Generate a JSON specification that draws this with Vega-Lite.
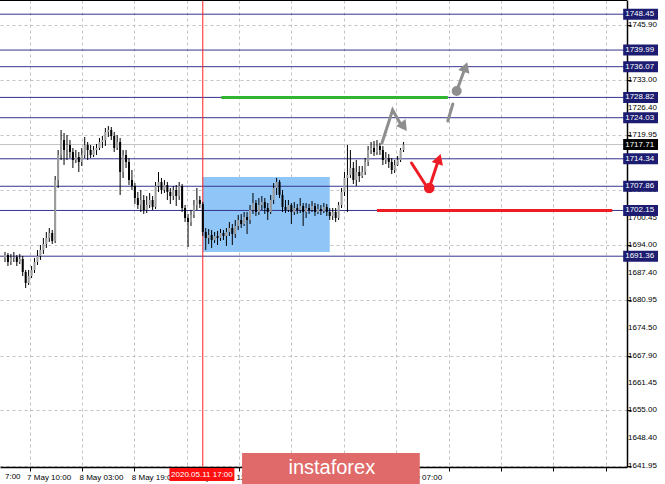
{
"$schema":"https://vega.github.io/schema/vega-lite/v6.json",
"width":627,"height":467,
"autosize":{"type":"none"},
"padding":{"left":0,"top":0,"right":38,"bottom":17},
"background":"#ffffff",
"config":{"view":{"stroke":null},"font":"Liberation Sans","axis":{"labelFont":"Liberation Sans","labelFontSize":8,"labelColor":"#000000","title":null,"labelOverlap":false,"labelBound":false,"labelFlush":false}},
"datasets":{
"candles":[
{"i":0,"o":1690.94,"h":1692.35,"l":1689.99,"c":1691.65},
{"i":1,"o":1691.65,"h":1692.12,"l":1689.05,"c":1689.99},
{"i":2,"o":1689.99,"h":1691.88,"l":1689.29,"c":1690.94},
{"i":3,"o":1690.94,"h":1692.35,"l":1689.99,"c":1691.17},
{"i":4,"o":1691.17,"h":1691.65,"l":1689.05,"c":1689.99},
{"i":5,"o":1689.99,"h":1691.88,"l":1689.52,"c":1690.70},
{"i":6,"o":1690.70,"h":1691.41,"l":1686.69,"c":1687.64},
{"i":7,"o":1687.64,"h":1688.11,"l":1683.86,"c":1685.04},
{"i":8,"o":1685.04,"h":1688.11,"l":1684.57,"c":1686.69},
{"i":9,"o":1686.69,"h":1689.05,"l":1686.22,"c":1688.11},
{"i":10,"o":1688.11,"h":1690.94,"l":1687.40,"c":1689.99},
{"i":11,"o":1689.99,"h":1692.82,"l":1689.29,"c":1691.41},
{"i":12,"o":1691.41,"h":1694.00,"l":1690.47,"c":1692.82},
{"i":13,"o":1692.82,"h":1695.66,"l":1691.88,"c":1694.24},
{"i":14,"o":1694.24,"h":1697.07,"l":1693.30,"c":1695.66},
{"i":15,"o":1695.66,"h":1698.01,"l":1694.71,"c":1696.84},
{"i":16,"o":1696.84,"h":1697.54,"l":1694.24,"c":1694.95},
{"i":17,"o":1694.95,"h":1710.28,"l":1694.48,"c":1709.34},
{"i":18,"o":1709.34,"h":1716.41,"l":1707.45,"c":1715.24},
{"i":19,"o":1715.24,"h":1721.13,"l":1714.06,"c":1718.77},
{"i":20,"o":1718.77,"h":1720.43,"l":1712.88,"c":1716.41},
{"i":21,"o":1716.41,"h":1719.95,"l":1714.06,"c":1717.59},
{"i":22,"o":1717.59,"h":1718.77,"l":1714.53,"c":1715.94},
{"i":23,"o":1715.94,"h":1716.89,"l":1712.17,"c":1714.06},
{"i":24,"o":1714.06,"h":1716.41,"l":1713.35,"c":1714.76},
{"i":25,"o":1714.76,"h":1715.94,"l":1711.23,"c":1713.58},
{"i":26,"o":1713.58,"h":1716.89,"l":1712.64,"c":1715.24},
{"i":27,"o":1715.24,"h":1719.48,"l":1714.53,"c":1717.59},
{"i":28,"o":1717.59,"h":1718.30,"l":1714.06,"c":1716.41},
{"i":29,"o":1716.41,"h":1717.59,"l":1714.53,"c":1715.24},
{"i":30,"o":1715.24,"h":1717.36,"l":1714.76,"c":1716.41},
{"i":31,"o":1716.41,"h":1717.83,"l":1715.24,"c":1716.89},
{"i":32,"o":1716.89,"h":1719.25,"l":1716.41,"c":1718.30},
{"i":33,"o":1718.30,"h":1719.72,"l":1716.89,"c":1718.77},
{"i":34,"o":1718.77,"h":1721.60,"l":1717.36,"c":1720.66},
{"i":35,"o":1720.66,"h":1722.08,"l":1719.48,"c":1721.13},
{"i":36,"o":1721.13,"h":1721.84,"l":1718.77,"c":1719.72},
{"i":37,"o":1719.72,"h":1720.66,"l":1715.94,"c":1716.89},
{"i":38,"o":1716.89,"h":1719.95,"l":1716.41,"c":1718.30},
{"i":39,"o":1718.30,"h":1719.25,"l":1705.80,"c":1711.23},
{"i":40,"o":1711.23,"h":1716.41,"l":1709.81,"c":1715.24},
{"i":41,"o":1715.24,"h":1716.41,"l":1712.17,"c":1713.58},
{"i":42,"o":1713.58,"h":1714.53,"l":1708.16,"c":1709.34},
{"i":43,"o":1709.34,"h":1711.70,"l":1706.98,"c":1707.92},
{"i":44,"o":1707.92,"h":1708.63,"l":1703.68,"c":1705.09},
{"i":45,"o":1705.09,"h":1706.51,"l":1702.50,"c":1703.44},
{"i":46,"o":1703.44,"h":1706.98,"l":1701.79,"c":1704.62},
{"i":47,"o":1704.62,"h":1705.80,"l":1701.32,"c":1702.26},
{"i":48,"o":1702.26,"h":1705.56,"l":1701.55,"c":1703.44},
{"i":49,"o":1703.44,"h":1706.27,"l":1702.73,"c":1704.62},
{"i":50,"o":1704.62,"h":1705.56,"l":1702.26,"c":1702.97},
{"i":51,"o":1702.97,"h":1708.87,"l":1702.50,"c":1707.92},
{"i":52,"o":1707.92,"h":1711.23,"l":1706.51,"c":1708.87},
{"i":53,"o":1708.87,"h":1709.81,"l":1706.04,"c":1706.98},
{"i":54,"o":1706.98,"h":1709.34,"l":1706.27,"c":1708.16},
{"i":55,"o":1708.16,"h":1708.87,"l":1704.62,"c":1706.51},
{"i":56,"o":1706.51,"h":1707.45,"l":1703.68,"c":1705.56},
{"i":57,"o":1705.56,"h":1707.92,"l":1704.62,"c":1706.98},
{"i":58,"o":1706.98,"h":1708.16,"l":1703.20,"c":1705.56},
{"i":59,"o":1705.56,"h":1708.87,"l":1704.62,"c":1707.92},
{"i":60,"o":1707.92,"h":1708.39,"l":1701.79,"c":1702.73},
{"i":61,"o":1702.73,"h":1703.44,"l":1699.43,"c":1700.37},
{"i":62,"o":1700.37,"h":1701.32,"l":1693.53,"c":1699.43},
{"i":63,"o":1699.43,"h":1702.26,"l":1698.49,"c":1701.08},
{"i":64,"o":1701.08,"h":1704.62,"l":1700.37,"c":1703.44},
{"i":65,"o":1703.44,"h":1707.45,"l":1702.26,"c":1704.62},
{"i":66,"o":1704.62,"h":1705.56,"l":1702.73,"c":1703.68},
{"i":67,"o":1703.68,"h":1704.15,"l":1696.13,"c":1697.07},
{"i":68,"o":1697.07,"h":1698.01,"l":1692.82,"c":1695.66},
{"i":69,"o":1695.66,"h":1697.78,"l":1694.24,"c":1696.36},
{"i":70,"o":1696.36,"h":1697.54,"l":1693.30,"c":1695.18},
{"i":71,"o":1695.18,"h":1697.07,"l":1694.48,"c":1696.13},
{"i":72,"o":1696.13,"h":1697.31,"l":1694.00,"c":1695.66},
{"i":73,"o":1695.66,"h":1697.78,"l":1694.95,"c":1696.84},
{"i":74,"o":1696.84,"h":1697.54,"l":1695.18,"c":1696.13},
{"i":75,"o":1696.13,"h":1698.01,"l":1693.77,"c":1697.07},
{"i":76,"o":1697.07,"h":1699.43,"l":1696.13,"c":1698.01},
{"i":77,"o":1698.01,"h":1698.96,"l":1694.00,"c":1696.60},
{"i":78,"o":1696.60,"h":1699.90,"l":1695.66,"c":1698.49},
{"i":79,"o":1698.49,"h":1701.08,"l":1697.54,"c":1699.90},
{"i":80,"o":1699.90,"h":1701.32,"l":1698.01,"c":1698.96},
{"i":81,"o":1698.96,"h":1701.79,"l":1698.49,"c":1700.61},
{"i":82,"o":1700.61,"h":1701.79,"l":1696.60,"c":1699.90},
{"i":83,"o":1699.90,"h":1703.44,"l":1698.96,"c":1702.26},
{"i":84,"o":1702.26,"h":1706.27,"l":1701.32,"c":1703.91},
{"i":85,"o":1703.91,"h":1704.62,"l":1700.85,"c":1701.79},
{"i":86,"o":1701.79,"h":1705.09,"l":1701.08,"c":1703.44},
{"i":87,"o":1703.44,"h":1705.56,"l":1702.26,"c":1704.15},
{"i":88,"o":1704.15,"h":1705.09,"l":1701.32,"c":1702.73},
{"i":89,"o":1702.73,"h":1703.91,"l":1699.90,"c":1701.79},
{"i":90,"o":1701.79,"h":1705.80,"l":1701.32,"c":1704.62},
{"i":91,"o":1704.62,"h":1708.63,"l":1703.68,"c":1707.45},
{"i":92,"o":1707.45,"h":1709.81,"l":1705.80,"c":1708.87},
{"i":93,"o":1708.87,"h":1709.34,"l":1705.09,"c":1705.80},
{"i":94,"o":1705.80,"h":1706.98,"l":1701.79,"c":1702.97},
{"i":95,"o":1702.97,"h":1704.62,"l":1701.55,"c":1702.26},
{"i":96,"o":1702.26,"h":1704.62,"l":1701.79,"c":1703.44},
{"i":97,"o":1703.44,"h":1703.91,"l":1698.96,"c":1701.79},
{"i":98,"o":1701.79,"h":1704.15,"l":1701.08,"c":1702.73},
{"i":99,"o":1702.73,"h":1703.68,"l":1701.32,"c":1702.26},
{"i":100,"o":1702.26,"h":1705.09,"l":1701.55,"c":1703.20},
{"i":101,"o":1703.20,"h":1703.91,"l":1698.49,"c":1701.79},
{"i":102,"o":1701.79,"h":1703.91,"l":1700.37,"c":1702.73},
{"i":103,"o":1702.73,"h":1703.68,"l":1701.32,"c":1702.26},
{"i":104,"o":1702.26,"h":1704.38,"l":1701.79,"c":1703.20},
{"i":105,"o":1703.20,"h":1703.91,"l":1700.85,"c":1701.79},
{"i":106,"o":1701.79,"h":1703.68,"l":1701.32,"c":1702.50},
{"i":107,"o":1702.50,"h":1703.44,"l":1701.08,"c":1702.03},
{"i":108,"o":1702.03,"h":1703.91,"l":1701.55,"c":1702.97},
{"i":109,"o":1702.97,"h":1703.68,"l":1700.85,"c":1701.79},
{"i":110,"o":1701.79,"h":1702.73,"l":1699.90,"c":1700.85},
{"i":111,"o":1700.85,"h":1702.73,"l":1699.90,"c":1701.79},
{"i":112,"o":1701.79,"h":1702.73,"l":1699.43,"c":1700.37},
{"i":113,"o":1700.37,"h":1704.15,"l":1699.90,"c":1703.44},
{"i":114,"o":1703.44,"h":1707.45,"l":1702.73,"c":1706.51},
{"i":115,"o":1706.51,"h":1711.23,"l":1705.56,"c":1709.81},
{"i":116,"o":1709.81,"h":1717.59,"l":1701.79,"c":1710.52},
{"i":117,"o":1710.52,"h":1716.41,"l":1709.81,"c":1712.17},
{"i":118,"o":1712.17,"h":1713.58,"l":1708.39,"c":1709.34},
{"i":119,"o":1709.34,"h":1714.06,"l":1707.92,"c":1711.23},
{"i":120,"o":1711.23,"h":1712.64,"l":1708.87,"c":1710.28},
{"i":121,"o":1710.28,"h":1712.64,"l":1709.81,"c":1711.23},
{"i":122,"o":1711.23,"h":1714.53,"l":1710.52,"c":1713.58},
{"i":123,"o":1713.58,"h":1717.36,"l":1712.64,"c":1716.41},
{"i":124,"o":1716.41,"h":1718.30,"l":1715.47,"c":1716.89},
{"i":125,"o":1716.89,"h":1718.54,"l":1715.00,"c":1715.94},
{"i":126,"o":1715.94,"h":1718.77,"l":1715.24,"c":1717.36},
{"i":127,"o":1717.36,"h":1718.07,"l":1715.24,"c":1716.41},
{"i":128,"o":1716.41,"h":1717.36,"l":1712.88,"c":1714.06},
{"i":129,"o":1714.06,"h":1715.94,"l":1713.11,"c":1714.53},
{"i":130,"o":1714.53,"h":1715.47,"l":1712.17,"c":1713.58},
{"i":131,"o":1713.58,"h":1714.53,"l":1710.75,"c":1711.70},
{"i":132,"o":1711.70,"h":1714.06,"l":1710.99,"c":1712.88},
{"i":133,"o":1712.88,"h":1715.00,"l":1712.64,"c":1714.06},
{"i":134,"o":1714.06,"h":1716.89,"l":1713.58,"c":1716.41},
{"i":135,"o":1716.41,"h":1718.30,"l":1715.94,"c":1717.71}
],
"yticks":[{"p":1745.90},{"p":1739.45},{"p":1733.00},{"p":1726.40},{"p":1719.95},{"p":1713.50},{"p":1707.00},{"p":1700.45},{"p":1694.00},{"p":1687.40},{"p":1680.95},{"p":1674.50},{"p":1667.90},{"p":1661.45},{"p":1655.00},{"p":1648.40},{"p":1641.95}],
"levels":[{"p":1748.45},{"p":1739.99},{"p":1736.07},{"p":1728.82},{"p":1724.03},{"p":1714.34},{"p":1707.86},{"p":1702.15},{"p":1691.36}],
"bid":[{"p":1717.71}],
"zone":[{"i1":67,"i2":110,"p1":1692.35,"p2":1710.04}],
"green":[{"i1":73.3,"i2":150,"p":1728.82}],
"redlevel":[{"i1":126,"i2":205.7,"p":1702.15}],
"grayPaths":[{"g":1,"k":1,"i":127.7,"p":1718.06},{"g":1,"k":2,"i":131.3,"p":1725.85},{"g":1,"k":3,"i":134.6,"p":1721.8},{"g":2,"k":1,"i":150,"p":1723.25},{"g":2,"k":2,"i":151.7,"p":1727.27},{"g":3,"k":1,"i":153,"p":1730.33},{"g":3,"k":2,"i":155.6,"p":1735.3}],
"grayHeads":[{"i":135.1,"p":1721.9,"dir":144},{"i":156,"p":1736.0,"dir":19}],
"grayDots":[{"i":153,"p":1730.33}],
"redPaths":[{"g":1,"k":1,"i":137.7,"p":1713.35},{"g":1,"k":2,"i":142.7,"p":1707.92},{"g":2,"k":1,"i":143.7,"p":1707.45},{"g":2,"k":2,"i":146.6,"p":1713.6}],
"redHeads":[{"i":147,"p":1714.3,"dir":19}],
"redDots":[{"i":143.7,"p":1707.45}]
},
"layer":[
{"data":{"name":"candles"},"mark":{"type":"rule","color":"#ffffff","strokeWidth":0,"opacity":0},
 "encoding":{
  "x":{"field":"i","type":"quantitative","scale":{"domain":[0,209],"nice":false,"zero":false},
   "axis":{"orient":"bottom","title":null,"values":[8.33,17.2,26.07,34.93,43.8,52.67,61.57,70.43,79.3,88.17,97.03,105.9,114.77,123.63,132.5,141.37,150.27,159.13,168,176.87,185.73,194.6,203.47],
    "grid":true,"gridColor":"#c4c4c4","gridDash":[3,3],"gridWidth":1,"domain":true,"domainColor":"#000000","domainWidth":1.5,
    "ticks":true,"tickColor":"#000000","tickSize":4,
    "labelAlign":"left","labelPadding":2,"labelOffset":-3,"labelOverlap":false,"labelBound":false,"labelFlush":false,
    "labelExpr":"(datum.value > 140 || round((datum.value-8.33)/8.8675) % 2 == 1) ? '' : ['7 May 10:00','8 May 03:00','8 May 19:00','11 May 12:00','12 May 05:00','12 May 22:00','13 May 14:00','14 May 07:00'][round((datum.value-8.33)/17.735)]"}},
  "y":{"field":"l","type":"quantitative","scale":{"domain":[1641.63,1751.8],"nice":false,"zero":false},
   "axis":{"orient":"right","title":null,"values":[1745.90,1739.45,1733.00,1726.40,1719.95,1713.50,1707.00,1700.45,1694.00,1687.40,1680.95,1674.50,1667.90,1661.45,1655.00,1648.40,1641.95],
    "labels":false,"grid":true,"gridColor":"#c4c4c4","gridDash":[3,3],"gridWidth":1,"domain":true,"domainColor":"#000000","domainWidth":1.5,
    "tickColor":"#000000","tickSize":4}},
  "y2":{"field":"h"}}},
{"data":{"name":"zone"},"mark":{"type":"rect","color":"#90c6f7"},
 "encoding":{"x":{"field":"i1","type":"quantitative","scale":{"domain":[0,209],"nice":false,"zero":false}},"x2":{"field":"i2"},
 "y":{"field":"p1","type":"quantitative","scale":{"domain":[1641.63,1751.8],"nice":false,"zero":false}},"y2":{"field":"p2"}}},
{"data":{"name":"bid"},"mark":{"type":"rule","color":"#c4c4c4","strokeWidth":1},
 "encoding":{"y":{"field":"p","type":"quantitative","scale":{"domain":[1641.63,1751.8],"nice":false,"zero":false}}}},
{"data":{"name":"levels"},"mark":{"type":"rule","color":"#34348f","strokeWidth":1},
 "encoding":{"y":{"field":"p","type":"quantitative","scale":{"domain":[1641.63,1751.8],"nice":false,"zero":false}}}},
{"data":{"name":"bid"},"mark":{"type":"rule","color":"#ff2020","strokeWidth":1},
 "encoding":{"x":{"datum":67,"type":"quantitative","scale":{"domain":[0,209],"nice":false,"zero":false}}}},
{"data":{"name":"candles"},"mark":{"type":"rule","color":"#000000","strokeWidth":1},
 "encoding":{"x":{"field":"i","type":"quantitative","scale":{"domain":[0,209],"nice":false,"zero":false}},
  "y":{"field":"l","type":"quantitative","scale":{"domain":[1641.63,1751.8],"nice":false,"zero":false}},"y2":{"field":"h"}}},
{"data":{"name":"candles"},"mark":{"type":"bar","size":2,"orient":"vertical"},
 "encoding":{"x":{"field":"i","type":"quantitative","scale":{"domain":[0,209],"nice":false,"zero":false}},
  "y":{"field":"o","type":"quantitative","scale":{"domain":[1641.63,1751.8],"nice":false,"zero":false}},"y2":{"field":"c"},
  "color":{"condition":{"test":"datum.c >= datum.o","value":"#9c9c9c"},"value":"#000000"}}},
{"data":{"name":"green"},"mark":{"type":"rule","color":"#2fb52f","strokeWidth":3},
 "encoding":{"x":{"field":"i1","type":"quantitative","scale":{"domain":[0,209],"nice":false,"zero":false}},"x2":{"field":"i2"},
  "y":{"field":"p","type":"quantitative","scale":{"domain":[1641.63,1751.8],"nice":false,"zero":false}}}},
{"data":{"name":"redlevel"},"mark":{"type":"rule","color":"#ee1c25","strokeWidth":3},
 "encoding":{"x":{"field":"i1","type":"quantitative","scale":{"domain":[0,209],"nice":false,"zero":false}},"x2":{"field":"i2"},
  "y":{"field":"p","type":"quantitative","scale":{"domain":[1641.63,1751.8],"nice":false,"zero":false}}}},
{"data":{"name":"grayPaths"},"mark":{"type":"line","color":"#8e8e8e","strokeWidth":3,"strokeCap":"round"},
 "encoding":{"x":{"field":"i","type":"quantitative","scale":{"domain":[0,209],"nice":false,"zero":false}},
  "y":{"field":"p","type":"quantitative","scale":{"domain":[1641.63,1751.8],"nice":false,"zero":false}},
  "detail":{"field":"g","type":"nominal"},"order":{"field":"k","type":"quantitative"}}},
{"data":{"name":"redPaths"},"mark":{"type":"line","color":"#ee1c25","strokeWidth":3,"strokeCap":"round"},
 "encoding":{"x":{"field":"i","type":"quantitative","scale":{"domain":[0,209],"nice":false,"zero":false}},
  "y":{"field":"p","type":"quantitative","scale":{"domain":[1641.63,1751.8],"nice":false,"zero":false}},
  "detail":{"field":"g","type":"nominal"},"order":{"field":"k","type":"quantitative"}}},
{"data":{"name":"grayDots"},"mark":{"type":"point","filled":true,"shape":"circle","size":100,"color":"#8e8e8e","opacity":1},
 "encoding":{"x":{"field":"i","type":"quantitative","scale":{"domain":[0,209],"nice":false,"zero":false}},
  "y":{"field":"p","type":"quantitative","scale":{"domain":[1641.63,1751.8],"nice":false,"zero":false}}}},
{"data":{"name":"redDots"},"mark":{"type":"point","filled":true,"shape":"circle","size":115,"color":"#ee1c25","opacity":1},
 "encoding":{"x":{"field":"i","type":"quantitative","scale":{"domain":[0,209],"nice":false,"zero":false}},
  "y":{"field":"p","type":"quantitative","scale":{"domain":[1641.63,1751.8],"nice":false,"zero":false}}}},
{"data":{"name":"grayHeads"},"mark":{"type":"point","filled":true,"shape":"triangle-up","size":140,"color":"#8e8e8e","opacity":1},
 "encoding":{"x":{"field":"i","type":"quantitative","scale":{"domain":[0,209],"nice":false,"zero":false}},
  "y":{"field":"p","type":"quantitative","scale":{"domain":[1641.63,1751.8],"nice":false,"zero":false}},
  "angle":{"field":"dir","type":"quantitative","scale":null}}},
{"data":{"name":"redHeads"},"mark":{"type":"point","filled":true,"shape":"triangle-up","size":140,"color":"#ee1c25","opacity":1},
 "encoding":{"x":{"field":"i","type":"quantitative","scale":{"domain":[0,209],"nice":false,"zero":false}},
  "y":{"field":"p","type":"quantitative","scale":{"domain":[1641.63,1751.8],"nice":false,"zero":false}},
  "angle":{"field":"dir","type":"quantitative","scale":null}}},
{"data":{"name":"bid"},"mark":{"type":"rule","color":"#000000","strokeWidth":2},
 "encoding":{"y":{"datum":1751.8,"type":"quantitative","scale":{"domain":[1641.63,1751.8],"nice":false,"zero":false}}}},
{"data":{"name":"yticks"},"mark":{"type":"text","color":"#000000","fontSize":8,"align":"left","baseline":"middle","dx":6},
 "encoding":{"x":{"datum":209,"type":"quantitative","scale":{"domain":[0,209],"nice":false,"zero":false}},
  "y":{"field":"p","type":"quantitative","scale":{"domain":[1641.63,1751.8],"nice":false,"zero":false}},
  "text":{"field":"p","type":"quantitative","format":".2f"}}},
{"data":{"name":"levels"},"mark":{"type":"rule","color":"#1c1c70","strokeWidth":11,"strokeCap":"butt"},
 "encoding":{"x":{"datum":209.4,"type":"quantitative","scale":{"domain":[0,209],"nice":false,"zero":false}},"x2":{"datum":221.2},
  "y":{"field":"p","type":"quantitative","scale":{"domain":[1641.63,1751.8],"nice":false,"zero":false}}}},
{"data":{"name":"bid"},"mark":{"type":"rule","color":"#000000","strokeWidth":11,"strokeCap":"butt"},
 "encoding":{"x":{"datum":209.4,"type":"quantitative","scale":{"domain":[0,209],"nice":false,"zero":false}},"x2":{"datum":221.2},
  "y":{"field":"p","type":"quantitative","scale":{"domain":[1641.63,1751.8],"nice":false,"zero":false}}}},
{"data":{"name":"levels"},"mark":{"type":"text","color":"#ffffff","fontSize":8,"align":"left","baseline":"middle","dx":2},
 "encoding":{"x":{"datum":209.4,"type":"quantitative","scale":{"domain":[0,209],"nice":false,"zero":false}},
  "y":{"field":"p","type":"quantitative","scale":{"domain":[1641.63,1751.8],"nice":false,"zero":false}},
  "text":{"field":"p","type":"quantitative","format":".2f"}}},
{"data":{"name":"bid"},"mark":{"type":"text","color":"#ffffff","fontSize":8,"align":"left","baseline":"middle","dx":2},
 "encoding":{"x":{"datum":209.4,"type":"quantitative","scale":{"domain":[0,209],"nice":false,"zero":false}},
  "y":{"field":"p","type":"quantitative","scale":{"domain":[1641.63,1751.8],"nice":false,"zero":false}},
  "text":{"field":"p","type":"quantitative","format":".2f"}}},
{"data":{"name":"bid"},"mark":{"type":"rect","color":"#ff1010"},
 "encoding":{"x":{"datum":55.7,"type":"quantitative","scale":{"domain":[0,209],"nice":false,"zero":false}},"x2":{"datum":77.7},
  "y":{"datum":1641.4,"type":"quantitative","scale":{"domain":[1641.63,1751.8],"nice":false,"zero":false}},"y2":{"datum":1638.3}}},
{"data":{"name":"bid"},"mark":{"type":"text","color":"#ffffff","fontSize":8,"align":"center","baseline":"middle","text":"2020.05.11 17:00"},
 "encoding":{"x":{"datum":66.7,"type":"quantitative","scale":{"domain":[0,209],"nice":false,"zero":false}},
  "y":{"datum":1639.85,"type":"quantitative","scale":{"domain":[1641.63,1751.8],"nice":false,"zero":false}}}},
{"data":{"name":"bid"},"mark":{"type":"text","color":"#000000","fontSize":8,"align":"left","baseline":"top","text":"7:00"},
 "encoding":{"x":{"datum":0,"type":"quantitative","scale":{"domain":[0,209],"nice":false,"zero":false}},
  "y":{"datum":1640.2,"type":"quantitative","scale":{"domain":[1641.63,1751.8],"nice":false,"zero":false}}}},
{"data":{"name":"bid"},"mark":{"type":"rect","color":"#e06a6a"},
 "encoding":{"x":{"datum":80.3,"type":"quantitative","scale":{"domain":[0,209],"nice":false,"zero":false}},"x2":{"datum":140.5},
  "y":{"datum":1644.94,"type":"quantitative","scale":{"domain":[1641.63,1751.8],"nice":false,"zero":false}},"y2":{"datum":1637.4}}},
{"data":{"name":"bid"},"mark":{"type":"text","color":"#ffffff","fontSize":20,"align":"center","baseline":"middle","text":"instaforex"},
 "encoding":{"x":{"datum":110.7,"type":"quantitative","scale":{"domain":[0,209],"nice":false,"zero":false}},
  "y":{"datum":1641.4,"type":"quantitative","scale":{"domain":[1641.63,1751.8],"nice":false,"zero":false}}}}
]
}
